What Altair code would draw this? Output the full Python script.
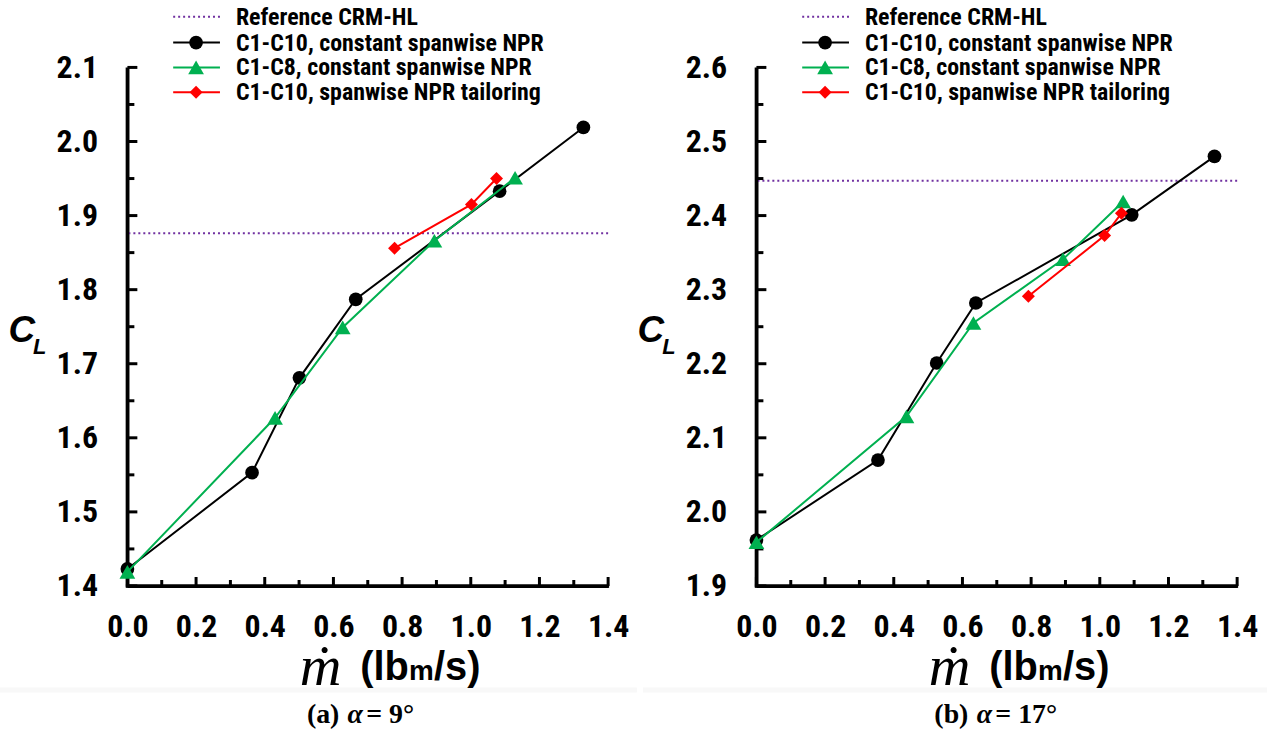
import altair as alt
import pandas as pd

# ---------------- data ----------------
x_ticks = [0.0, 0.2, 0.4, 0.6, 0.8, 1.0, 1.2, 1.4]

a_black_x = [0.0, 0.363, 0.501, 0.665, 1.084, 1.328]
a_black_y = [1.423, 1.553, 1.681, 1.787, 1.933, 2.019]
a_green_x = [0.0, 0.430, 0.627, 0.894, 1.129]
a_green_y = [1.419, 1.627, 1.749, 1.866, 1.951]
a_red_x = [0.778, 1.002, 1.075]
a_red_y = [1.856, 1.915, 1.950]
a_ref = 1.876
a_y_ticks = [1.4, 1.5, 1.6, 1.7, 1.8, 1.9, 2.0, 2.1]

b_black_x = [0.0, 0.354, 0.525, 0.639, 1.093, 1.334]
b_black_y = [1.962, 2.070, 2.201, 2.282, 2.401, 2.480]
b_green_x = [0.0, 0.437, 0.632, 0.893, 1.068]
b_green_y = [1.959, 2.129, 2.255, 2.341, 2.419]
b_red_x = [0.792, 1.014, 1.063]
b_red_y = [2.291, 2.373, 2.403]
b_ref = 2.447
b_y_ticks = [1.9, 2.0, 2.1, 2.2, 2.3, 2.4, 2.5, 2.6]

legend_labels = ["Reference CRM-HL", "C1-C10, constant spanwise NPR",
                 "C1-C8, constant spanwise NPR", "C1-C10, spanwise NPR tailoring"]
captions = [("(a)", "9°"), ("(b)", "17°")]

# ---------------- styles ----------------
W, H = 483, 521
NARROW = "Liberation Sans Narrow, Arial Narrow, Roboto Condensed, sans-serif"
SANS = "Liberation Sans, Arial, sans-serif"
SERIF = "Liberation Serif, Times New Roman, DejaVu Serif, serif"
BLACK, GREEN, RED, PURPLE = "#000000", "#00B050", "#FF0000", "#7030A0"
SIZES = {"circle": 190, "triangle-up": 250, "diamond": 170}
ONE = pd.DataFrame({"v": [0]})


def txt(text, x, y, size, font=NARROW, weight="bold", style="normal",
        align="left", baseline="middle"):
    return alt.Chart(ONE).mark_text(
        text=text, font=font, fontSize=size, fontWeight=weight, fontStyle=style,
        align=align, baseline=baseline, color="black"
    ).encode(x=alt.value(x), y=alt.value(y))


def panel(bx, by, gx, gy, rx, ry, ref, yt, cap, left_ext, right_ext):
    ymin, ymax = yt[0], yt[-1]
    xs = alt.Scale(domain=[0, 1.4], nice=False, zero=False)
    ys = alt.Scale(domain=[ymin, ymax], nice=False, zero=False)
    common = dict(format=".1f", title=None, labelFont=NARROW, labelFontSize=32,
                  labelFontWeight="bold", labelColor="black", ticks=False, grid=False,
                  domain=True, domainColor="black", domainWidth=3, labelFlush=False)
    xaxis = alt.Axis(values=x_ticks, labelPadding=26, **common)
    yaxis = alt.Axis(values=yt, labelPadding=30, **common)

    def series(xv, yv, color, shape):
        df = pd.DataFrame({"x": xv, "y": yv})
        base = alt.Chart(df).encode(x=alt.X("x:Q", scale=xs, axis=xaxis),
                                    y=alt.Y("y:Q", scale=ys, axis=yaxis))
        return [base.mark_line(color=color, strokeWidth=2),
                base.mark_point(shape=shape, filled=True, size=SIZES[shape],
                                color=color, opacity=1)]

    # tick marks (inward)
    ymaj = pd.DataFrame({"y": yt})
    ymin_t = pd.DataFrame({"y": [round(v + 0.05, 3) for v in yt[:-1]]})
    xmaj = pd.DataFrame({"x": x_ticks})
    xmin_t = pd.DataFrame({"x": [round(v + 0.1, 3) for v in x_ticks[:-1]]})
    ticks = [
        alt.Chart(ymaj).mark_rule(color="black", strokeWidth=3).encode(
            y=alt.Y("y:Q", scale=ys, axis=yaxis), x=alt.value(0), x2=alt.value(10)),
        alt.Chart(ymin_t).mark_rule(color="black", strokeWidth=3).encode(
            y=alt.Y("y:Q", scale=ys, axis=yaxis), x=alt.value(0), x2=alt.value(7)),
        alt.Chart(xmaj).mark_rule(color="black", strokeWidth=3).encode(
            x=alt.X("x:Q", scale=xs, axis=xaxis), y=alt.value(H), y2=alt.value(H - 9)),
        alt.Chart(xmin_t).mark_rule(color="black", strokeWidth=3).encode(
            x=alt.X("x:Q", scale=xs, axis=xaxis), y=alt.value(H), y2=alt.value(H - 6)),
        # heavy axis lines
        alt.Chart(ONE).mark_rule(color="black", strokeWidth=3.5).encode(
            x=alt.value(0), y=alt.value(0), y2=alt.value(H + 1.5)),
        alt.Chart(ONE).mark_rule(color="black", strokeWidth=3.5).encode(
            x=alt.value(-1.5), x2=alt.value(W + 1), y=alt.value(H)),
    ]

    refrule = alt.Chart(pd.DataFrame({"y": [ref]})).mark_rule(
        color=PURPLE, strokeWidth=2, strokeDash=[2, 3]
    ).encode(y=alt.Y("y:Q", scale=ys, axis=yaxis))

    # faint grey strip of the source page
    strip = alt.Chart(ONE).mark_rect(color="#f8f8f8").encode(
        x=alt.value(-left_ext), x2=alt.value(right_ext), y=alt.value(623), y2=alt.value(628))

    layers = [strip, refrule] + ticks
    layers += series(bx, by, BLACK, "circle")
    layers += series(gx, gy, GREEN, "triangle-up")
    layers += series(rx, ry, RED, "diamond")

    # legend
    rows = [-51, -25, 0, 25]
    lx1, lx2, mx, tx = 46, 93, 69, 109
    leg_styles = [(PURPLE, None), (BLACK, "circle"), (GREEN, "triangle-up"), (RED, "diamond")]
    for (col, shp), lab, ry_ in zip(leg_styles, legend_labels, rows):
        if shp is None:
            layers.append(alt.Chart(ONE).mark_rule(color=col, strokeWidth=2, strokeDash=[2, 3]).encode(
                x=alt.value(lx1), x2=alt.value(lx2), y=alt.value(ry_)))
        else:
            layers.append(alt.Chart(ONE).mark_rule(color=col, strokeWidth=2).encode(
                x=alt.value(lx1), x2=alt.value(lx2), y=alt.value(ry_)))
            layers.append(alt.Chart(ONE).mark_point(shape=shp, filled=True, size=SIZES[shp],
                                                   color=col, opacity=1).encode(
                x=alt.value(mx), y=alt.value(ry_)))
        layers.append(txt(lab, tx, ry_ + 1, 24))

    # y title  C_L
    layers.append(txt("C", -106, 265, 37, font=SANS, style="italic", align="center"))
    layers.append(txt("L", -88, 281, 22, font=SANS, style="italic", align="center"))

    # x title  m-dot (lbm/s)
    layers.append(txt("ṁ", 194, 620, 58, font=SERIF, weight="normal", style="italic",
                      align="center", baseline="alphabetic"))
    layers.append(txt("(lb", 234, 615, 40, font=SANS, baseline="alphabetic"))
    layers.append(txt("m", 283, 615, 28, font=SANS, baseline="alphabetic"))
    layers.append(txt("/s)", 308, 615, 40, font=SANS, baseline="alphabetic"))

    # caption
    layers.append(txt(cap[0], 213, 659, 28, font=SERIF, align="right", baseline="alphabetic"))
    layers.append(txt("α", 229, 659, 28, font=SERIF, style="italic", align="center",
                      baseline="alphabetic"))
    layers.append(txt("= " + cap[1], 240, 659, 28, font=SERIF, baseline="alphabetic"))

    # invisible frame fixing the panel's extent
    layers.append(alt.Chart(ONE).mark_rule(color="white", strokeOpacity=0, strokeWidth=1).encode(
        x=alt.value(-left_ext), x2=alt.value(right_ext), y=alt.value(-66)))
    layers.append(alt.Chart(ONE).mark_rule(color="white", strokeOpacity=0, strokeWidth=1).encode(
        x=alt.value(-left_ext), y=alt.value(-66), y2=alt.value(670)))

    return alt.layer(*layers).properties(width=W, height=H)


left = panel(a_black_x, a_black_y, a_green_x, a_green_y, a_red_x, a_red_y, a_ref,
             a_y_ticks, captions[0], 128, 512)
right = panel(b_black_x, b_black_y, b_green_x, b_green_y, b_red_x, b_red_y, b_ref,
              b_y_ticks, captions[1], 114, 513)

chart = alt.hconcat(left, right, spacing=0).properties(
    padding=0, background="white"
).configure_view(stroke=None)

chart.save("out.html", embed_options={"renderer": "svg", "actions": False})
